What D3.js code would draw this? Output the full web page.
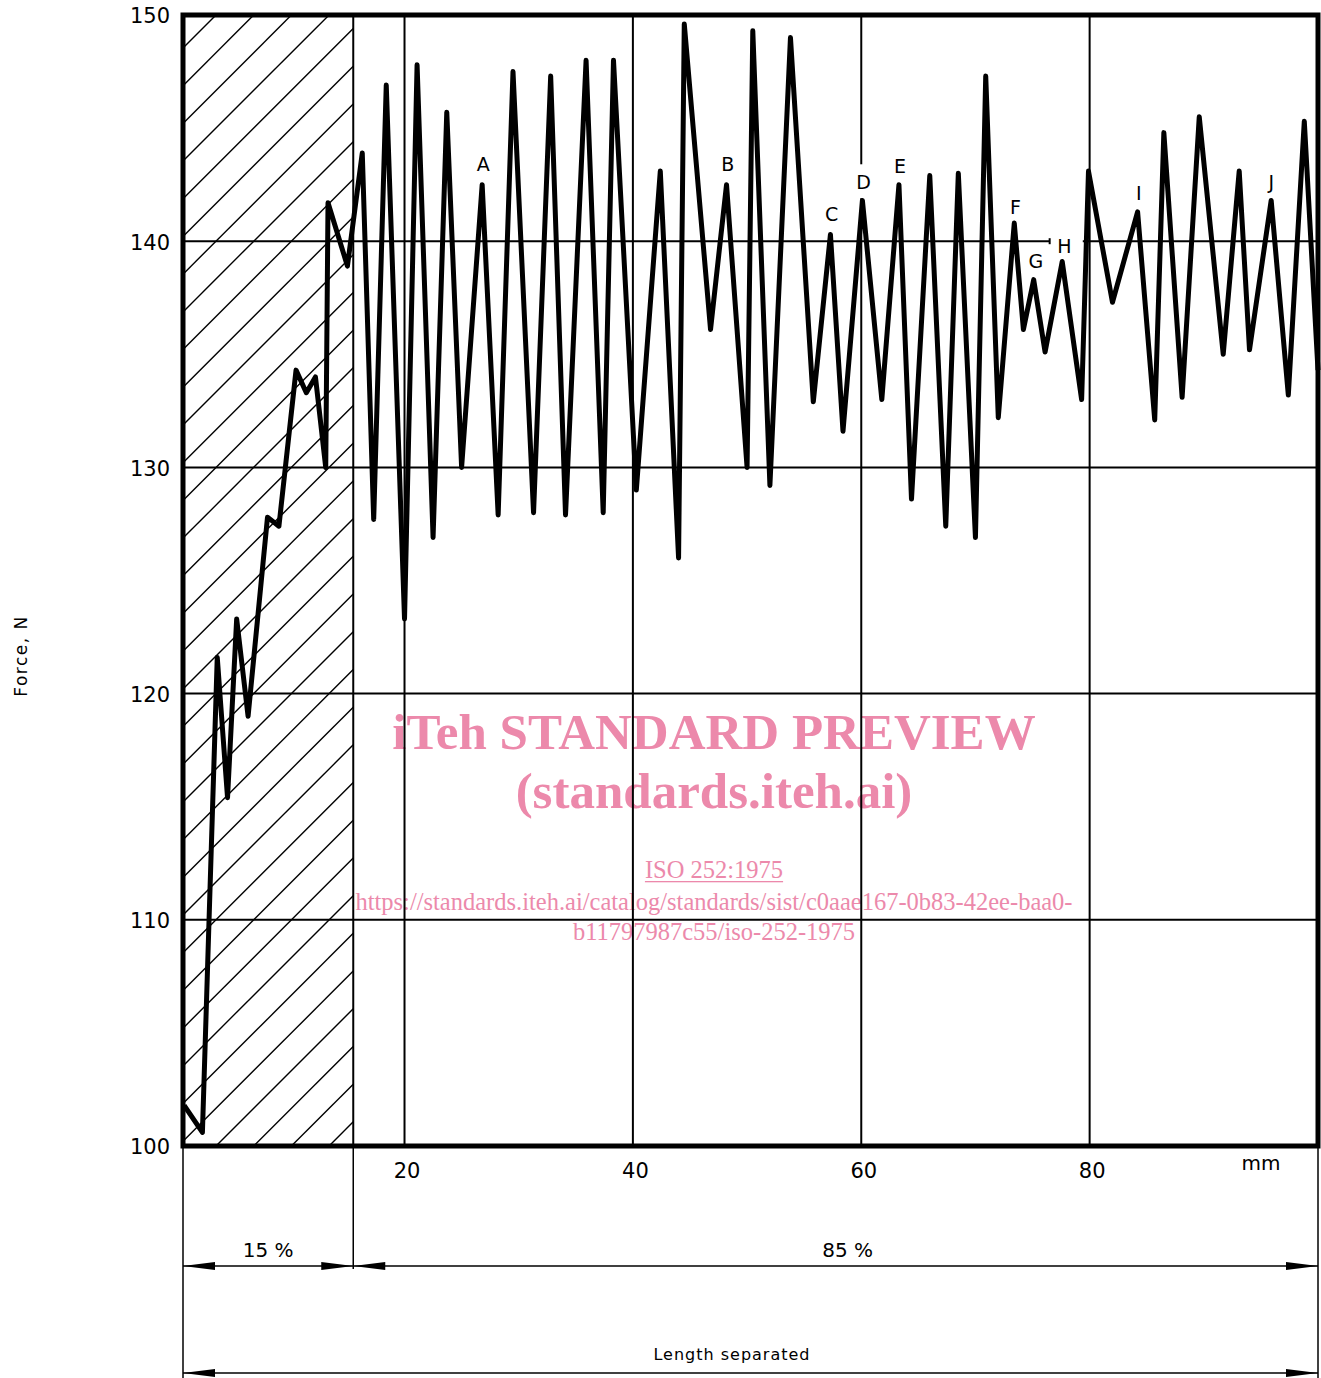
<!DOCTYPE html>
<html>
<head>
<meta charset="utf-8">
<title>Force vs length separated</title>
<script src="https://cdn.jsdelivr.net/npm/d3@7"></script>
<style>
  body { margin: 0; background: #fff; }
  svg { display: block; }
</style>
</head>
<body>
<svg id="chart" width="1321" height="1378"></svg>
<script>
// trace: length separated (mm) and force (N)
const lengthMm = [0.7, 2.3, 3.6, 4.5, 5.3, 6.3, 8.0, 9.0, 10.5, 11.4, 12.2, 13.1, 13.3, 15.0,
  16.3, 17.3, 18.4, 20.0, 21.1, 22.5, 23.7, 25.0, 26.8, 28.2, 29.5, 31.3, 32.8, 34.1, 35.9,
  37.4, 38.3, 40.3, 42.4, 44.0, 44.5, 46.8, 48.2, 50.0, 50.5, 52.0, 53.8, 55.8, 57.3, 58.4,
  60.1, 61.8, 63.3, 64.4, 66.0, 67.4, 68.5, 70.0, 70.9, 72.0, 73.4, 74.2, 75.1, 76.1, 77.6,
  79.3, 79.9, 82.0, 84.2, 85.7, 86.5, 88.1, 89.6, 91.7, 93.1, 94.0, 95.9, 97.4, 98.8, 100];
const forceN = [101.8, 100.6, 121.6, 115.4, 123.3, 119.0, 127.8, 127.4, 134.3, 133.3, 134.0, 130.0, 141.7, 138.9,
  143.9, 127.7, 146.9, 123.3, 147.8, 126.9, 145.7, 130.0, 142.5, 127.9, 147.5, 128.0, 147.3, 127.9, 148.0,
  128.0, 148.0, 129.0, 143.1, 126.0, 149.6, 136.1, 142.5, 130.0, 149.3, 129.2, 149.0, 132.9, 140.3, 131.6,
  141.8, 133.0, 142.5, 128.6, 142.9, 127.4, 143.0, 126.9, 147.3, 132.2, 140.8, 136.1, 138.3, 135.1, 139.1,
  133.0, 143.1, 137.3, 141.3, 132.1, 144.8, 133.1, 145.5, 135.0, 143.1, 135.2, 141.8, 133.2, 145.3, 134.3];

// peak letters, placed at (mm, N) of the text baseline
const peakLetters = ['A', 'B', 'C', 'D', 'E', 'F', 'G', 'H', 'I', 'J'];
const peakLetterMm = [26.9, 48.3, 57.4, 60.2, 63.4, 73.5, 75.3, 77.8, 84.3, 95.9];
const peakLetterN = [143.1, 143.1, 140.9, 142.3, 143.0, 141.2, 138.8, 139.5, 141.8, 142.3];

const xTicks = [20, 40, 60, 80];
const yTicks = [100, 110, 120, 130, 140, 150];
const gridMm = [20, 40, 60, 80];
const gridN = [110, 120, 130, 140];
const zoneShares = [0.15, 0.85];
const zoneLabels = ['15 %', '85 %'];

const watermarkLines = ['iTeh STANDARD PREVIEW', '(standards.iteh.ai)', 'ISO 252:1975',
  'https://standards.iteh.ai/catalog/standards/sist/c0aae167-0b83-42ee-baa0-',
  'b11797987c55/iso-252-1975'];

const W = 1321, H = 1378;
const xMin = 0.6, xMax = 100;
const svg = d3.select('#chart');
const x = d3.scaleLinear().domain([xMin, xMax]).range([183, 1318]);
const y = d3.scaleLinear().domain([100, 150]).range([1146, 15]);
const splitMm = xMin + zoneShares[0] * (xMax - xMin);
const font = '"DejaVu Sans", sans-serif';

// watermark sits underneath everything
const wm = svg.append('g').attr('fill', '#ec89ab').attr('font-family', '"Liberation Serif", serif')
  .attr('text-anchor', 'middle');
const wmSize = [51, 51, 24.5, 24.5, 24.5];
const wmBase = [749, 808, 878, 910, 940];
watermarkLines.forEach(function(t, i) {
  const txt = wm.append('text').attr('x', 714).attr('y', wmBase[i])
    .attr('font-size', wmSize[i]).attr('font-weight', i < 2 ? 'bold' : 'normal').text(t);
  if (i === 2) {
    const len = txt.node().getComputedTextLength();
    wm.append('rect').attr('x', 714 - len / 2).attr('y', wmBase[i] + 3)
      .attr('width', len).attr('height', 1.3);
  }
});

// hatched first 15 %
svg.append('clipPath').attr('id', 'hatchClip').append('rect')
  .attr('x', x(xMin)).attr('y', y(150)).attr('width', x(splitMm) - x(xMin)).attr('height', y(100) - y(150));
const hatch = svg.append('g').attr('clip-path', 'url(#hatchClip)')
  .attr('stroke', '#000').attr('stroke-width', 1.4);
d3.range(-2, 36).forEach(function(k) {
  const c = x(xMin) + 48 + 37.7 * k;
  hatch.append('line').attr('x1', x(xMin)).attr('y1', c - x(xMin))
    .attr('x2', x(splitMm)).attr('y2', c - x(splitMm));
});

// grid, with the small breaks left for the D and H letters
const grid = svg.append('g').attr('stroke', '#000').attr('stroke-width', 2);
gridN.forEach(function(n) {
  const segs = n === 140 ? [[xMin, 76.5], [79.4, xMax]] : [[xMin, xMax]];
  segs.forEach(s => grid.append('line').attr('x1', x(s[0])).attr('x2', x(s[1]))
    .attr('y1', y(n)).attr('y2', y(n)));
});
grid.append('line').attr('x1', x(76.5)).attr('x2', x(76.5)).attr('y1', y(140) - 3).attr('y2', y(140) + 3);
gridMm.forEach(function(m) {
  const segs = m === 60 ? [[150, 143.4], [141.9, 100]] : [[150, 100]];
  segs.forEach(s => grid.append('line').attr('x1', x(m)).attr('x2', x(m))
    .attr('y1', y(s[0])).attr('y2', y(s[1])));
});
grid.append('line').attr('x1', x(splitMm)).attr('x2', x(splitMm)).attr('y1', y(150)).attr('y2', y(100));

// frame
svg.append('rect').attr('x', x(xMin)).attr('y', y(150))
  .attr('width', x(xMax) - x(xMin)).attr('height', y(100) - y(150))
  .attr('fill', 'none').attr('stroke', '#000').attr('stroke-width', 5);

// force trace
const pts = lengthMm.map((m, i) => [m, forceN[i]]);
svg.append('path').datum(pts)
  .attr('d', d3.line().x(d => x(d[0])).y(d => y(d[1])))
  .attr('fill', 'none').attr('stroke', '#000').attr('stroke-width', 5)
  .attr('stroke-linejoin', 'round');

svg.append('g').attr('font-family', font).attr('font-size', 19).attr('text-anchor', 'middle')
  .selectAll('text').data(peakLetters).enter().append('text')
  .attr('x', (d, i) => x(peakLetterMm[i])).attr('y', (d, i) => y(peakLetterN[i]))
  .text(d => d);

// axes
const yAxis = svg.append('g').attr('transform', 'translate(' + x(xMin) + ',0)')
  .call(d3.axisLeft(y).tickValues(yTicks).tickSize(0).tickPadding(13).tickFormat(d3.format('d')));
yAxis.select('.domain').remove();
yAxis.attr('font-family', font).attr('font-size', 21);
yAxis.selectAll('text').attr('dy', '0.38em').attr('fill', '#000');

const xAxis = svg.append('g').attr('transform', 'translate(0,' + y(100) + ')')
  .call(d3.axisBottom(x).tickValues(xTicks).tickSize(0).tickPadding(17).tickFormat(d3.format('d')));
xAxis.select('.domain').remove();
xAxis.attr('font-family', font).attr('font-size', 21);
xAxis.selectAll('text').attr('dx', 2).attr('fill', '#000');

svg.append('text').attr('x', 1261).attr('y', 1170).attr('text-anchor', 'middle')
  .attr('font-family', font).attr('font-size', 20).text('mm');

svg.append('text').attr('transform', 'translate(27,656) rotate(-90)').attr('text-anchor', 'middle')
  .attr('font-family', font).attr('font-size', 17).attr('letter-spacing', 1.5).text('Force, N');

// dimension lines under the chart
const dim = svg.append('g').attr('stroke', '#000').attr('stroke-width', 1.5);
const dimY1 = 1266, dimY2 = 1373;
dim.append('line').attr('x1', x(xMin)).attr('x2', x(xMin)).attr('y1', y(100)).attr('y2', H);
dim.append('line').attr('x1', x(xMax)).attr('x2', x(xMax)).attr('y1', y(100)).attr('y2', H);
dim.append('line').attr('x1', x(splitMm)).attr('x2', x(splitMm)).attr('y1', y(100)).attr('y2', dimY1 + 3);
[dimY1, dimY2].forEach(v => dim.append('line').attr('x1', x(xMin)).attr('x2', x(xMax)).attr('y1', v).attr('y2', v));

function arrow(tx, ty, dir) {
  const L = 32, hw = 4;
  svg.append('path')
    .attr('d', 'M' + tx + ',' + ty + 'L' + (tx + dir * L) + ',' + (ty - hw) + 'L' + (tx + dir * L) + ',' + (ty + hw) + 'Z')
    .attr('fill', '#000');
}
arrow(x(xMin), dimY1, 1);
arrow(x(splitMm), dimY1, -1);
arrow(x(splitMm), dimY1, 1);
arrow(x(xMax), dimY1, -1);
arrow(x(xMin), dimY2, 1);
arrow(x(xMax), dimY2, -1);

svg.append('g').attr('font-family', font).attr('font-size', 20).attr('text-anchor', 'middle')
  .selectAll('text').data(zoneLabels).enter().append('text')
  .attr('x', (d, i) => i === 0 ? (x(xMin) + x(splitMm)) / 2 : (x(splitMm) + x(xMax)) / 2 + 12)
  .attr('y', 1257).text(d => d);

svg.append('text').attr('x', 732).attr('y', 1360).attr('text-anchor', 'middle')
  .attr('font-family', font).attr('font-size', 16).attr('letter-spacing', 1).text('Length separated');
</script>
</body>
</html>
